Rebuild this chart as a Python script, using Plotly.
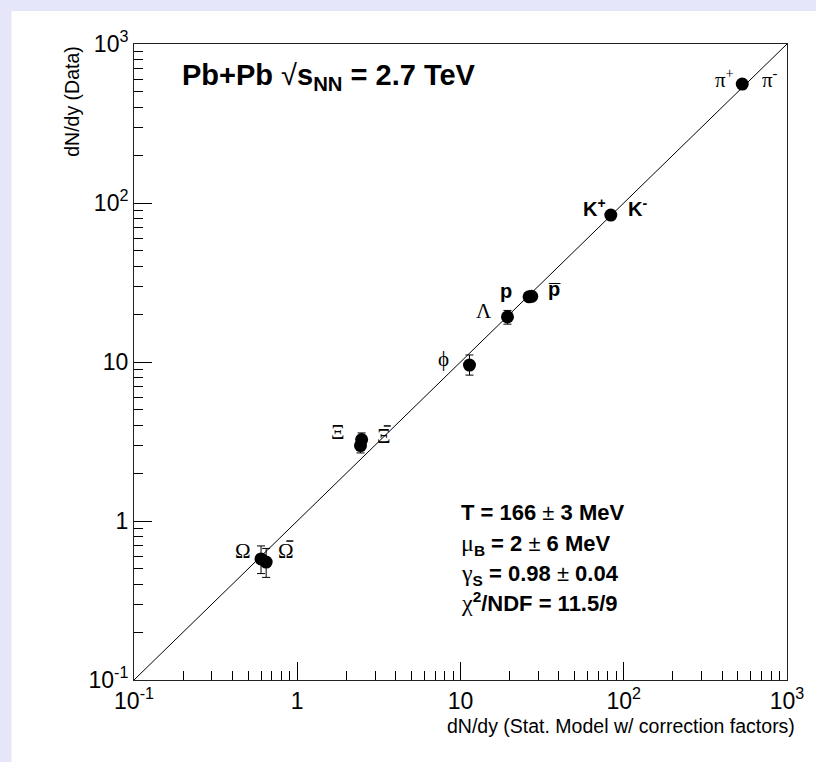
import plotly.graph_objects as go

# ---------------- data ----------------
species = ["pi", "K", "p", "pbar", "Lambda", "phi", "Xi", "Xibar", "Omega", "Omegabar"]
model_dndy = [532, 83.3, 26.3, 27.3, 19.4, 11.35, 2.44, 2.48, 0.60, 0.645]
data_dndy = [560, 84.0, 25.7, 25.9, 19.2, 9.57, 2.98, 3.25, 0.577, 0.552]
err_plus = [0, 0, 0, 0, 1.9, 1.5, 0.33, 0.33, 0.12, 0.12]
err_minus = [0, 0, 0, 0, 1.9, 1.3, 0.30, 0.30, 0.11, 0.11]

line_x = [0.1, 1000]
line_y = [0.1, 1000]

major_vals = [0.1, 1, 10, 100, 1000]
major_text = ["10<sup>-1</sup>", "1", "10", "10<sup>2</sup>", "10<sup>3</sup>"]
minor_vals = [m * d for d in [0.1, 1, 10, 100] for m in range(2, 10)]

label_text = ["π<sup>+</sup>", "π<sup>-</sup>", "<b>K<sup>+</sup></b>", "<b>K<sup>-</sup></b>",
              "<b>p</b>", "<b>p\u0305</b>", "Λ", "\u03d5", "Ξ", "Ξ", "Ω", "Ω"]
label_serif = [True, True, False, False, False, False, True, True, True, True, True, True]
label_bar = [False, False, False, False, False, False, False, False, False, True, False, True]
# label positions in log10 axis units
label_lx = [2.62, 2.896, 1.818, 2.085, 1.280, 1.573, 1.146, 0.896, 0.250, 0.530, -0.335, -0.067]
label_ly = [2.780, 2.780, 1.969, 1.969, 1.447, 1.459, 1.321, 1.019, 0.560, 0.535, -0.189, -0.189]

SANS = "Liberation Sans, Arial, Helvetica, sans-serif"
SERIF = "Liberation Serif, Times New Roman, serif"

fig = go.Figure()

fig.add_trace(go.Scatter(x=line_x, y=line_y, mode="lines",
                         line=dict(color="black", width=1), hoverinfo="skip",
                         showlegend=False))

fig.add_trace(go.Scatter(
    x=model_dndy, y=data_dndy, mode="markers",
    marker=dict(color="black", size=13, symbol="circle"),
    error_y=dict(type="data", array=err_plus, arrayminus=err_minus,
                 color="black", thickness=1, width=4, symmetric=False),
    showlegend=False, text=species))

# background panel (white inner pad on lavender canvas)
fig.add_shape(type="rect", xref="paper", yref="paper",
              x0=(11 - 134) / 656, x1=(830 - 134) / 656,
              y0=(680 - 780) / 636, y1=(680 - 11) / 636,
              fillcolor="white", line=dict(width=0), layer="below")

# particle labels
for t, s, b, lx, ly in zip(label_text, label_serif, label_bar, label_lx, label_ly):
    fig.add_annotation(x=lx, y=ly, xref="x", yref="y", text=t, showarrow=False,
                       font=dict(family=SERIF if s else SANS, size=21 if s else 20, color="black"),
                       xanchor="center", yanchor="middle")
    if b:
        fig.add_shape(type="line", xref="x", yref="y", xsizemode="pixel", ysizemode="pixel",
                      xanchor=10 ** lx, yanchor=10 ** ly, x0=-7, x1=7, y0=10, y1=10,
                      line=dict(color="black", width=1.5))

# title
fig.add_annotation(x=(180 - 134) / 656, y=(680 - 77) / 636, xref="paper", yref="paper",
                   text="<b>Pb+Pb </b><span style='font-weight:normal'>√</span><b>s<sub>NN</sub> = 2.7 TeV</b>",
                   showarrow=False, xanchor="left", yanchor="middle",
                   font=dict(family=SANS, size=29, color="black"))

# fit results
g = "<span style='font-family:Liberation Serif;font-weight:normal;font-size:24px'>"
pm = "<span style='font-weight:normal'>±</span>"
stats = [
    "<b>T = 166 </b>" + pm + "<b> 3 MeV</b>",
    g + "μ</span><b><sub>B</sub> = 2 </b>" + pm + "<b> 6 MeV</b>",
    g + "γ</span><b><sub>S</sub> = 0.98 </b>" + pm + "<b> 0.04</b>",
    g + "χ</span><b><sup>2</sup>/NDF = 11.5/9</b>",
]
stats_py = [512, 544, 574, 602]
for t, py in zip(stats, stats_py):
    fig.add_annotation(x=(460 - 134) / 656, y=(680 - py) / 636, xref="paper", yref="paper",
                       text=t, showarrow=False, xanchor="left", yanchor="middle",
                       font=dict(family=SANS, size=22, color="black"))

# axis titles (right / top aligned as in the reference)
fig.add_annotation(x=(800 - 134) / 656, y=(680 - 726) / 636, xref="paper", yref="paper",
                   text="dN/dy (Stat. Model w/ correction factors)", showarrow=False,
                   xanchor="right", yanchor="middle",
                   font=dict(family=SANS, size=19.5, color="black"))
fig.add_annotation(x=(71 - 134) / 656, y=1, xref="paper", yref="paper",
                   text="dN/dy (Data)", showarrow=False, textangle=-90,
                   xanchor="center", yanchor="top",
                   font=dict(family=SANS, size=19.5, color="black"))

axis_common = dict(
    type="log", showgrid=False, zeroline=False,
    showline=True, linecolor="#222222", linewidth=1, mirror=True,
    ticks="inside", ticklen=18, tickwidth=1, tickcolor="black",
    tickmode="array", tickvals=major_vals, ticktext=major_text,
    tickfont=dict(family=SANS, size=23, color="black"),
    minor=dict(ticks="inside", ticklen=9, tickwidth=1, tickcolor="black",
               tickmode="array", tickvals=minor_vals),
)

fig.update_xaxes(**axis_common, range=[-1, 3])
fig.update_yaxes(**axis_common, range=[-1, 3])

fig.update_layout(
    width=816, height=762,
    margin=dict(l=134, r=26, t=44, b=82),
    paper_bgcolor="#e6e6fa", plot_bgcolor="white",
    showlegend=False,
)

fig.write_html("out.html", config={"displayModeBar": False},
               post_script="document.body.style.margin='0';document.body.style.background='#e6e6fa';")
